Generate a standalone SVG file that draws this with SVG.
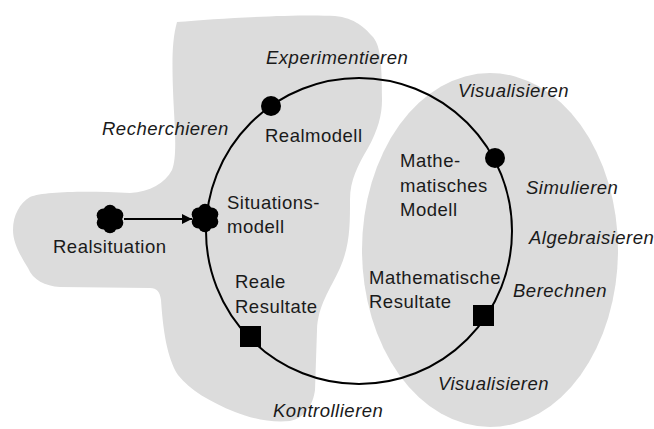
<svg xmlns="http://www.w3.org/2000/svg" width="654" height="429" viewBox="0 0 654 429">
  <style>
    .area { fill: #dcdcdc; stroke: none; }
    .label { font-family: "Liberation Sans", Arial, sans-serif; font-size: 18.5px; letter-spacing: 0.5px; fill: #1a1a1a; }
    .act { font-style: italic; }
    .cycle { fill: none; stroke: #000; stroke-width: 2; }
    .link { fill: none; stroke: #000; stroke-width: 2; }
    .mark { fill: #000; }
  </style>
  <defs>
    <g id="flower">
      <circle cx="0" cy="0" r="8"/>
      <circle cx="0" cy="-7.5" r="6.8"/>
      <circle cx="6.5" cy="-3.75" r="6.8"/>
      <circle cx="6.5" cy="3.75" r="6.8"/>
      <circle cx="0" cy="7.5" r="6.8"/>
      <circle cx="-6.5" cy="3.75" r="6.8"/>
      <circle cx="-6.5" cy="-3.75" r="6.8"/>
    </g>
    <marker id="arrowhead" viewBox="0 0 10 10" refX="10" refY="5" markerWidth="5" markerHeight="5" orient="auto" markerUnits="strokeWidth">
      <path d="M0,0 L10,5 L0,10 Z" fill="#000"/>
    </marker>
  </defs>

  <!-- shaded domains: real world (left) and mathematics (right) -->
  <g id="areas">
    <path id="real-world" class="area" d="M177,22 C220,18 300,14 335,16 C355,18 365,28 372,36 C380,44 382,60 382,100 C382,115 378,130 368,148 C358,165 350,180 350,200 C350,225 350,245 340,268 C330,290 318,305 317,330 L315,390 C313,405 305,418 290,421 C270,423 250,418 235,412 C210,402 190,390 178,375 C167,358 163,330 161,300 C160,292 157,288 150,288 L60,287 C45,286 33,280 28,268 C20,255 13,243 13,230 C13,215 20,203 30,197 C45,191 90,191 130,193 C150,192 165,183 172,170 C178,155 174,120 173,90 C172,60 172,40 177,22 Z"/>
    <ellipse id="math-world" class="area" cx="490" cy="250" rx="128" ry="177"/>
  </g>

  <!-- connectors: modelling cycle and entry arrow -->
  <g id="connectors">
    <circle class="cycle" cx="359" cy="231" r="153"/>
    <line class="link" x1="124" y1="219" x2="192" y2="219" marker-end="url(#arrowhead)"/>
  </g>

  <!-- activity labels along the cycle -->
  <g id="activities" class="label act">
    <text x="266" y="64">Experimentieren</text>
    <text x="458" y="97">Visualisieren</text>
    <text x="102" y="135">Recherchieren</text>
    <text x="526" y="194">Simulieren</text>
    <text x="529" y="244">Algebraisieren</text>
    <text x="513" y="297">Berechnen</text>
    <text x="438" y="390">Visualisieren</text>
    <text x="273" y="417">Kontrollieren</text>
  </g>

  <g id="realsituation">
    <use href="#flower" x="110" y="219" class="mark"/>
    <text class="label" x="53" y="253">Realsituation</text>
  </g>

  <g id="situationsmodell">
    <use href="#flower" x="205" y="218" class="mark"/>
    <text class="label" x="227" y="209">Situations-</text>
    <text class="label" x="227" y="233">modell</text>
  </g>

  <g id="realmodell">
    <circle class="mark" cx="271" cy="106" r="10"/>
    <text class="label" x="265" y="142">Realmodell</text>
  </g>

  <g id="mathematisches-modell">
    <circle class="mark" cx="495" cy="158" r="10"/>
    <text class="label" x="400" y="167">Mathe-</text>
    <text class="label" x="400" y="192">matisches</text>
    <text class="label" x="400" y="216">Modell</text>
  </g>

  <g id="mathematische-resultate">
    <rect class="mark" x="473" y="305" width="21" height="21"/>
    <text class="label" x="369" y="284">Mathematische</text>
    <text class="label" x="369" y="308">Resultate</text>
  </g>

  <g id="reale-resultate">
    <rect class="mark" x="240" y="326" width="21" height="21"/>
    <text class="label" x="235" y="288">Reale</text>
    <text class="label" x="235" y="313">Resultate</text>
  </g>
</svg>
